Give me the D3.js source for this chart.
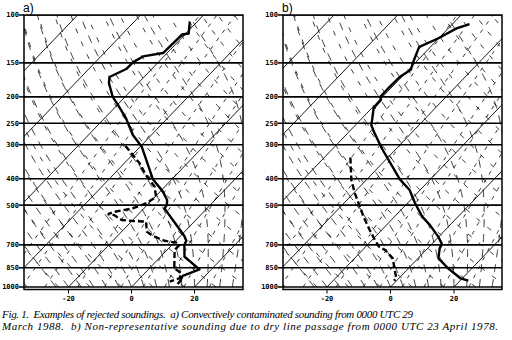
<!DOCTYPE html>
<html>
<head>
<meta charset="utf-8">
<script src="https://cdn.jsdelivr.net/npm/d3@7"></script>
<style>
  body { margin: 0; background: #fff; }
  text { white-space: pre; }
</style>
</head>
<body>
<svg id="chart" width="512" height="340"></svg>
<script>
// pressure levels (hPa) labelled on the left and drawn as isobars
const pressureTicks = [100, 150, 200, 250, 300, 400, 500, 700, 850, 1000];
// temperature tick labels along the bottom (deg C)
const tempTicks = [-20, 0, 20];
// skewed isotherms (deg C)
const isotherms = [-160, -140, -120, -100, -80, -60, -40, -20, 0, 20, 40];
// dry adiabats, potential temperature (K)
const dryAdiabats = [230, 240, 250, 260, 270, 280, 290, 300, 310, 320, 330, 340, 350, 360, 370, 380, 390, 400, 410, 420, 430, 440, 450];
// moist adiabats, wet-bulb potential temperature (deg C)
const moistAdiabats = [-24, -20, -16, -12, -8, -4, 0, 4, 8, 12, 16, 20, 24, 28, 32, 36];
// saturation mixing ratio lines (g/kg)
const mixingRatios = [0.1, 0.2, 0.4, 1, 2, 3, 5, 8, 12, 20];

// a) 0000 UTC 29 March 1988
const tempA_p = [106, 117, 118, 138, 142, 149, 158, 169, 178, 200, 214, 240, 276, 305, 402, 446, 479, 500, 514, 567, 649, 676, 701, 774, 861, 911, 956, 975];
const tempA_T = [-62.3, -59.1, -60.9, -61.3, -66.6, -68.0, -68.1, -71.0, -69.3, -63.9, -59.8, -53.1, -45.9, -39.5, -26.0, -19.1, -15.2, -13.7, -13.5, -7.3, 1.2, 3.3, 4.0, 7.6, 16.2, 12.9, 13.7, 13.7];
const dewA_p = [303, 351, 388, 428, 466, 492, 514, 529, 540, 544, 567, 572, 575, 626, 649, 676, 687, 701, 731, 807, 854, 890, 929, 956];
const dewA_T = [-44.9, -35.1, -29.5, -23.2, -19.7, -20.8, -23.6, -28.3, -29.7, -27.4, -23.6, -19.7, -15.3, -12.0, -8.8, -3.6, 0.7, 2.4, 2.4, 5.9, 7.9, 11.6, 12.6, 10.5];

// b) 0000 UTC 23 April 1978
const tempB_p = [108, 112, 122, 131, 134, 148, 159, 169, 184, 200, 205, 220, 240, 254, 272, 309, 402, 440, 492, 551, 592, 653, 695, 721, 784, 854, 929, 948];
const tempB_T = [-54.6, -57.4, -60.2, -63.5, -63.1, -61.0, -59.3, -60.6, -60.8, -60.7, -59.6, -59.4, -56.7, -55.0, -51.5, -44.7, -29.6, -23.3, -17.6, -11.3, -6.3, -0.2, 3.2, 3.8, 6.4, 12.5, 19.4, 22.6];
const dewB_p = [334, 404, 452, 492, 551, 617, 672, 711, 731, 784, 866, 929, 948];
const dewB_T = [-51.8, -44.7, -39.6, -35.4, -29.8, -23.8, -19.1, -15.8, -12.9, -8.0, -3.8, -0.8, -0.8];

const svg = d3.select("#chart");

const yTop = 15, yBottom = 287, frameBottom = 289.5;
const skewFactor = 0.96;
const yScale = d3.scaleLog().domain([100, 1000]).range([yTop, yBottom]);

const panels = [
  { name: "a)", left: 24, right: 243,
    x: d3.scaleLinear().domain([-20, 20]).range([68.5, 194.5]),
    temp: d3.zip(tempA_p, tempA_T), dew: d3.zip(dewA_p, dewA_T) },
  { name: "b)", left: 283, right: 502,
    x: d3.scaleLinear().domain([-20, 20]).range([327, 454]),
    temp: d3.zip(tempB_p, tempB_T), dew: d3.zip(dewB_p, dewB_T) }
];

// sampling grid in pressure for the background curves
const pGrid = d3.range(0, 121).map(i => 1000 * Math.pow(0.1, i / 120));

const Rd = 287.04, cp = 1005.7, Lv = 2.501e6, eps = 0.622;
const es = t => 6.112 * Math.exp(17.67 * t / (t + 243.5));

function dryCurve(theta) {
  return pGrid.map(p => [p, theta * Math.pow(p / 1000, Rd / cp) - 273.15]);
}

function moistCurve(thw) {
  let T = thw + 273.15, lnp = Math.log(1000);
  const pts = [[1000, thw]];
  const step = -0.01;
  while (lnp > Math.log(100)) {
    const p = Math.exp(lnp);
    const e = es(T - 273.15);
    const rs = eps * e / (p - e);
    const dT = (Rd * T + Lv * rs) / (cp + Lv * Lv * rs * eps / (Rd * T * T));
    T += dT * step;
    lnp += step;
    pts.push([Math.exp(lnp), T - 273.15]);
  }
  return pts;
}

function mixCurve(w) {
  const r = w / 1000;
  return pGrid.map(p => {
    const e = r * p / (eps + r);
    const l = Math.log(e / 6.112);
    return [p, 243.5 * l / (17.67 - l)];
  });
}

panels.forEach((pn, i) => {
  const skew = (T, p) => pn.x(T) + skewFactor * (yScale(1000) - yScale(p));
  const line = d3.line().x(d => skew(d[1], d[0])).y(d => yScale(d[0]));

  svg.append("clipPath").attr("id", "clip" + i)
    .append("rect")
    .attr("x", pn.left).attr("y", yTop)
    .attr("width", pn.right - pn.left).attr("height", frameBottom - yTop);

  const g = svg.append("g").attr("clip-path", `url(#clip${i})`);

  g.append("g").selectAll("path").data(dryAdiabats).join("path")
    .attr("d", th => line(dryCurve(th)))
    .attr("fill", "none").attr("stroke", "#000")
    .attr("stroke-width", 0.8).attr("stroke-dasharray", "5,9");

  g.append("g").selectAll("path").data(moistAdiabats).join("path")
    .attr("d", th => line(moistCurve(th)))
    .attr("fill", "none").attr("stroke", "#000")
    .attr("stroke-width", 0.8).attr("stroke-dasharray", "8,7");

  g.append("g").selectAll("path").data(mixingRatios).join("path")
    .attr("d", w => line(mixCurve(w)))
    .attr("fill", "none").attr("stroke", "#000")
    .attr("stroke-width", 0.8).attr("stroke-dasharray", "4,6");

  g.append("g").selectAll("path").data(isotherms).join("path")
    .attr("d", t => line([[1000, t], [100, t]]))
    .attr("fill", "none").attr("stroke", "#000").attr("stroke-width", 0.9);

  g.append("g").selectAll("line").data(pressureTicks).join("line")
    .attr("x1", pn.left).attr("x2", pn.right)
    .attr("y1", p => yScale(p)).attr("y2", p => yScale(p))
    .attr("stroke", "#000").attr("stroke-width", 1.6);

  g.append("path").attr("d", line(pn.dew))
    .attr("fill", "none").attr("stroke", "#000")
    .attr("stroke-width", 2.4).attr("stroke-dasharray", "6,3");

  g.append("path").attr("d", line(pn.temp))
    .attr("fill", "none").attr("stroke", "#000")
    .attr("stroke-width", 2.4).attr("stroke-linejoin", "round");

  // frame
  svg.append("rect")
    .attr("x", pn.left).attr("y", yTop)
    .attr("width", pn.right - pn.left).attr("height", frameBottom - yTop)
    .attr("fill", "none").attr("stroke", "#000").attr("stroke-width", 1.5);

  // pressure labels
  const lab = svg.append("g");
  lab.selectAll("line").data(pressureTicks).join("line")
    .attr("x1", pn.left - 5).attr("x2", pn.left)
    .attr("y1", p => yScale(p)).attr("y2", p => yScale(p))
    .attr("stroke", "#000").attr("stroke-width", 1.5);
  lab.selectAll("text").data(pressureTicks).join("text")
    .attr("x", pn.left - 5).attr("y", p => yScale(p))
    .attr("dy", "0.35em").attr("text-anchor", "end")
    .attr("font-family", "DejaVu Sans Mono").attr("font-size", 7)
    .attr("font-weight", "bold")
    .text(p => p);

  // temperature axis
  const ax = svg.append("g");
  ax.selectAll("line").data(tempTicks).join("line")
    .attr("x1", t => pn.x(t)).attr("x2", t => pn.x(t))
    .attr("y1", frameBottom).attr("y2", frameBottom + 4)
    .attr("stroke", "#000").attr("stroke-width", 1);
  ax.selectAll("text").data(tempTicks).join("text")
    .attr("x", t => pn.x(t)).attr("y", 301)
    .attr("text-anchor", "middle")
    .attr("font-family", "DejaVu Sans Mono").attr("font-size", 7)
    .attr("font-weight", "bold")
    .text(t => t);

  svg.append("text")
    .attr("x", pn.left - 1).attr("y", 11.5)
    .attr("font-family", "Liberation Sans").attr("font-size", 12)
    .text(pn.name);
});

const caption = [
  "Fig. 1.  Examples of rejected soundings.  a) Convectively contaminated sounding from 0000 UTC 29",
  "March 1988.  b) Non-representative sounding due to dry line passage from 0000 UTC 23 April 1978."
];
const captionWidth = [411, 496];
svg.append("g").selectAll("text").data(caption).join("text")
  .attr("x", 2).attr("y", (d, i) => 318 + i * 12)
  .attr("font-family", "Liberation Serif").attr("font-style", "italic")
  .attr("font-size", 11)
  .attr("textLength", (d, i) => captionWidth[i]).attr("lengthAdjust", "spacing")
  .text(d => d);
</script>
</body>
</html>
